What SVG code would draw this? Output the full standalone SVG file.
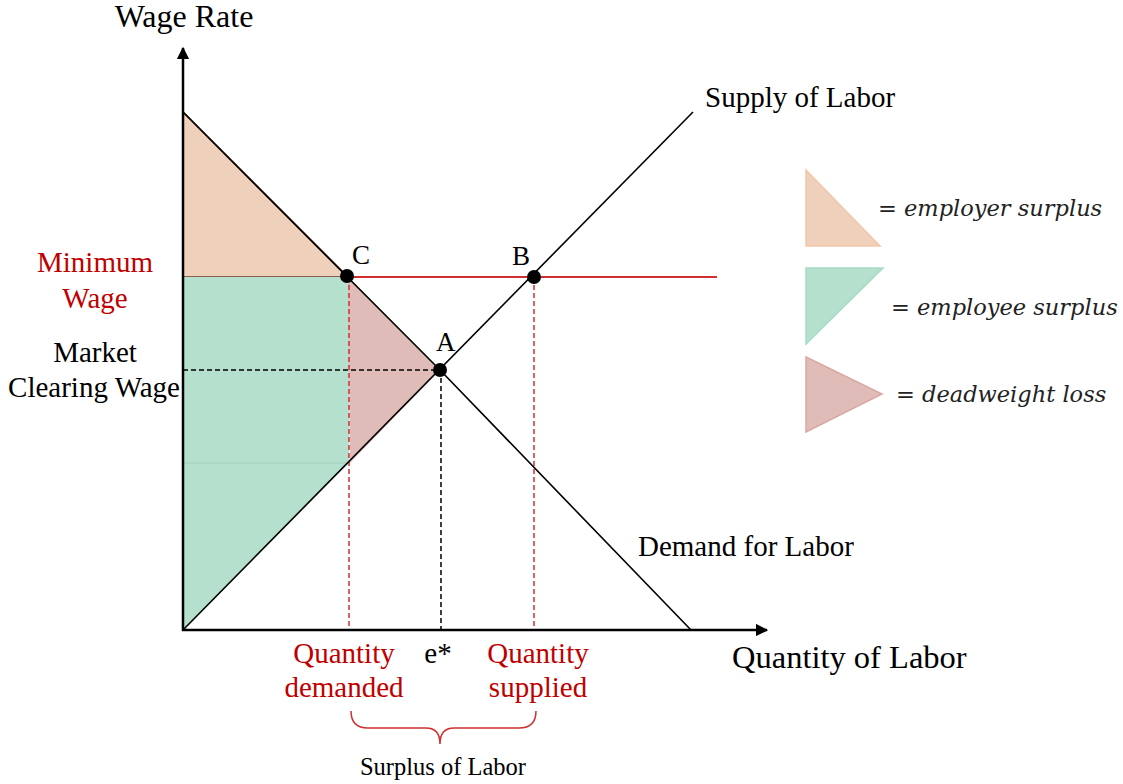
<svg xmlns="http://www.w3.org/2000/svg" width="1123" height="784" viewBox="0 0 1123 784">
  <defs>
    <marker id="axis-head" viewBox="0 0 10 10" refX="9" refY="5" markerWidth="5" markerHeight="5" markerUnits="strokeWidth" orient="auto">
      <path d="M0,0 L10,5 L0,10 Z" fill="#000"/>
    </marker>
    <style>
      .lbl { font-family: "Liberation Serif", "Times New Roman", serif; font-size: 29px; fill: #000; }
      .red { fill: #c00000; }
      .mid { text-anchor: middle; }
      .pt { font-size: 27px; }
      .title { font-size: 32px; }
      .xtitle { font-size: 32.5px; }
      .note { font-size: 24.5px; }
      .legend { font-family: "DejaVu Serif", "Liberation Serif", serif; font-style: italic; font-size: 22.5px; fill: #222; }
      .axis { stroke: #000; stroke-width: 2.5; fill: none; }
      .curve { stroke: #000; stroke-width: 1.6; fill: none; }
      .dash-black { stroke: #000; stroke-width: 1.5; stroke-dasharray: 5 3; fill: none; }
      .dash-red { stroke: #d03030; stroke-width: 1.5; stroke-dasharray: 5 3; fill: none; }
      .dot { fill: #000; }
    </style>
  </defs>
  <rect width="1123" height="784" fill="#fff"/>

  <!-- shaded surplus areas -->
  <g id="employer-surplus">
    <polygon points="183,112 348,277 183,277" fill="#efd0bb" stroke="#6b3a2a" stroke-width="1.6"/>
  </g>
  <g id="employee-surplus">
    <polygon points="183,277 349,277 349,463 183,630" fill="#b6e0ce"/>
    <line x1="183" y1="463" x2="349" y2="463" stroke="#9fd1bb" stroke-width="1"/>
  </g>
  <g id="deadweight-loss">
    <polygon points="348,277 440,370 350,463" fill="#dfbcb8"/>
  </g>

  <!-- curves, guides and axes -->
  <g id="connectors">
    <line class="dash-black" x1="183" y1="370" x2="440" y2="370"/>
    <line class="dash-black" x1="441" y1="370" x2="441" y2="630"/>
    <line class="dash-red" x1="349" y1="277" x2="349" y2="630"/>
    <line class="dash-red" x1="534" y1="277" x2="534" y2="630"/>
    <line x1="348" y1="277" x2="717" y2="277" stroke="#d03030" stroke-width="1.8"/>
    <polyline class="curve" points="183,112 440,370 691,630"/>
    <line class="curve" x1="183" y1="630" x2="693" y2="112"/>
    <line class="axis" x1="183" y1="631" x2="183" y2="48" marker-end="url(#axis-head)"/>
    <line class="axis" x1="182" y1="630" x2="767" y2="630" marker-end="url(#axis-head)"/>
    <path d="M351,711 Q351,728 368,728 L426,728 Q440,728 440,744 Q440,728 454,728 L519,728 Q536,728 536,711" fill="none" stroke="#d03030" stroke-width="1.5"/>
  </g>

  <!-- points -->
  <g id="point-C">
    <circle class="dot" cx="347" cy="276" r="7"/>
    <text class="lbl pt" x="352" y="264">C</text>
  </g>
  <g id="point-B">
    <circle class="dot" cx="534" cy="277" r="7"/>
    <text class="lbl pt" x="512" y="265">B</text>
  </g>
  <g id="point-A">
    <circle class="dot" cx="440" cy="370" r="7"/>
    <text class="lbl pt" x="436" y="351">A</text>
  </g>

  <!-- axis and curve labels -->
  <g id="axis-labels">
    <text class="lbl mid title" x="184" y="27">Wage Rate</text>
    <text class="lbl xtitle" x="732" y="668">Quantity of Labor</text>
    <text class="lbl" x="705" y="107">Supply of Labor</text>
    <text class="lbl" x="638" y="556">Demand for Labor</text>
  </g>
  <g id="wage-labels">
    <text class="lbl red mid" x="95" y="272">Minimum</text>
    <text class="lbl red mid" x="95" y="308">Wage</text>
    <text class="lbl mid" x="95" y="362">Market</text>
    <text class="lbl mid" x="94" y="397">Clearing Wage</text>
  </g>
  <g id="quantity-labels">
    <text class="lbl red mid" x="344" y="663">Quantity</text>
    <text class="lbl red mid" x="344" y="697">demanded</text>
    <text class="lbl mid" x="438" y="663">e*</text>
    <text class="lbl red mid" x="538" y="663">Quantity</text>
    <text class="lbl red mid" x="538" y="697">supplied</text>
    <text class="lbl mid note" x="443" y="775">Surplus of Labor</text>
  </g>

  <!-- legend -->
  <g id="legend-employer">
    <polygon points="806,170 806,246 880,246" fill="#efd0bb" stroke="#f2c7a8" stroke-width="1.5"/>
    <text class="legend" x="878" y="216">= employer surplus</text>
  </g>
  <g id="legend-employee">
    <polygon points="806,268 883,268 806,344" fill="#b6e0ce" stroke="#a5dcc4" stroke-width="1.5"/>
    <text class="legend" x="891" y="315">= employee surplus</text>
  </g>
  <g id="legend-deadweight">
    <polygon points="806,357 882,394 806,432" fill="#dfbcb8" stroke="#dba8a2" stroke-width="1.5"/>
    <text class="legend" x="896" y="402">= deadweight loss</text>
  </g>
</svg>
